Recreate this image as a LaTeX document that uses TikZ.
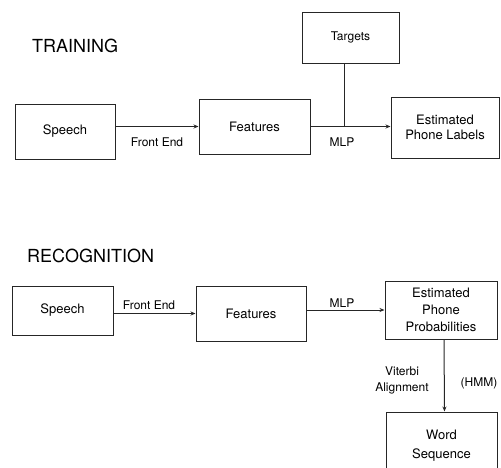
\documentclass[tikz,border=0pt]{standalone}
\usepackage{fontspec}
\setmainfont{TeX Gyre Heros}
\usetikzlibrary{arrows.meta,positioning}

\begin{document}
\begin{tikzpicture}[
    x=1pt, y=-1pt,
    >={Stealth[length=5pt,width=4pt]},
    font=\fontsize{13}{15}\selectfont,
    blk/.style={draw=black!85, line width=1pt, align=center, inner sep=2pt},
    lbl/.style={font=\fontsize{12}{15}\selectfont, align=center, inner sep=1pt},
    ttl/.style={font=\fontsize{18}{20}\selectfont, anchor=west, inner sep=0pt},
    arr/.style={->, line width=1pt, draw=black!85},
    ln/.style={line width=1pt, draw=black!85}
  ]
  \useasboundingbox (0,0) rectangle (501,467);

  % --- TRAINING ---
  \node[ttl] (train_title) at (32,46) {TRAINING};
  \node[blk, minimum width=100pt, minimum height=55pt] (t_speech) at (65,131.5) {Speech};
  \node[blk, minimum width=111pt, minimum height=55pt] (t_feat) at (254.5,126.5) {Features};
  \node[blk, minimum width=108pt, minimum height=61pt] (t_labels) at (445,127.5) {Estimated\\Phone Labels};
  \node[blk, minimum width=97pt, minimum height=51pt, font=\fontsize{12}{15}\selectfont] (targets) at (350.5,37.5) {Targets};
  \coordinate (mlp_join) at (344,126.5);

  \draw[arr] (t_speech.east |- t_feat.west) -- (t_feat.west);
  \draw[arr] (t_feat.east) -- (t_labels.west |- t_feat.east);
  \draw[ln] (targets.south -| mlp_join) -- (mlp_join);
  \node[lbl] (t_frontend) at (157,142) {Front End};
  \node[lbl] (t_mlp) at (342,142) {MLP};

  % --- RECOGNITION ---
  \node[ttl] (rec_title) at (27,256) {RECOGNITION};
  \node[blk, minimum width=101pt, minimum height=49pt] (r_speech) at (62.5,310.5) {Speech};
  \node[blk, minimum width=110pt, minimum height=55pt] (r_feat) at (251,313.5) {Features};
  \node[blk, minimum width=112pt, minimum height=58pt, font=\fontsize{13}{17}\selectfont] (r_prob) at (441,310) {Estimated\\Phone\\Probabilities};
  \node[blk, minimum width=111pt, minimum height=68pt, font=\fontsize{13}{19}\selectfont] (word) at (441.5,446) {Word\\Sequence};

  \draw[arr] (r_speech.east |- r_feat.west) -- (r_feat.west);
  \draw[arr] (r_feat.east |- r_prob.west) -- (r_prob.west);
  \draw[arr] ([xshift=3pt]r_prob.south) -- ([xshift=3pt]word.north);
  \node[lbl] (r_frontend) at (149,305) {Front End};
  \node[lbl] (r_mlp) at (342,303) {MLP};
  \node[lbl, font=\fontsize{12}{16}\selectfont] (viterbi) at (402,380) {Viterbi\\Alignment};
  \node[lbl] (hmm) at (479,383) {(HMM)};

\end{tikzpicture}
\end{document}
